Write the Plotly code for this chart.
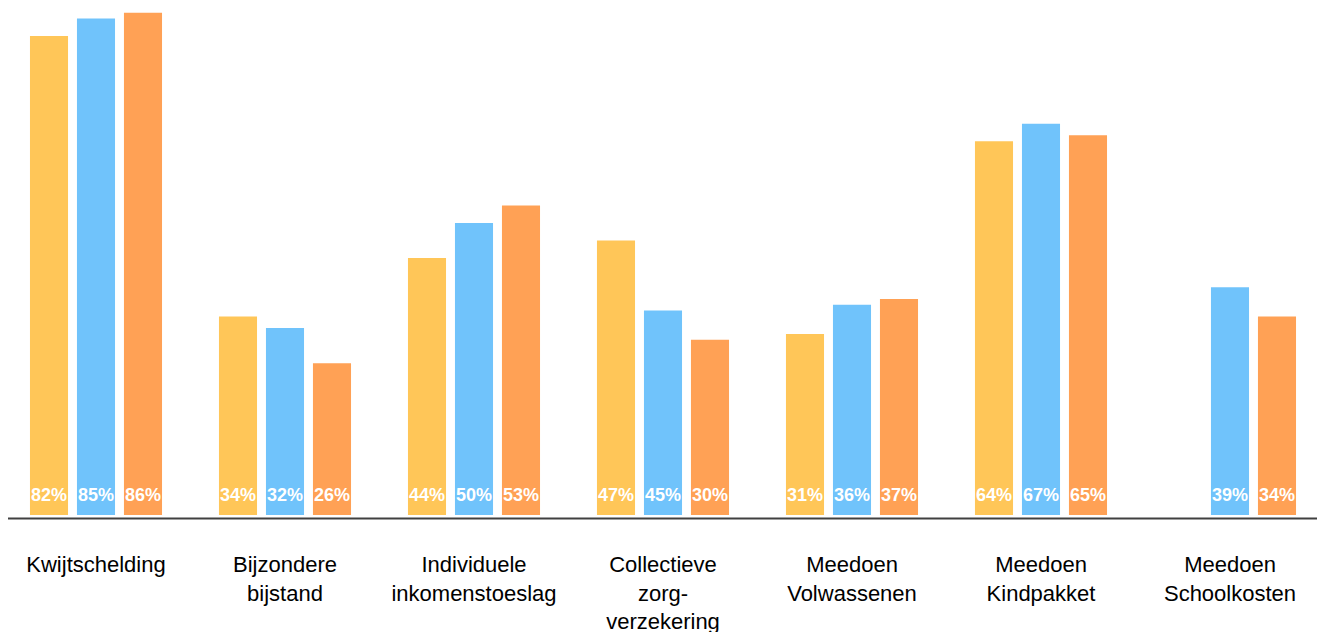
import plotly.graph_objects as go

categories = ["Kwijtschelding", "Bijzondere<br>bijstand", "Individuele<br>inkomenstoeslag",
              "Collectieve<br>zorg-<br>verzekering", "Meedoen<br>Volwassenen",
              "Meedoen<br>Kindpakket", "Meedoen<br>Schoolkosten"]
series_a = [82, 34, 44, 47, 31, 64, None]
series_b = [85, 32, 50, 35, 36, 67, 39]
series_c = [86, 26, 53, 30, 37, 65, 34]
labels_a = ["82%", "34%", "44%", "47%", "31%", "64%", None]
labels_b = ["85%", "32%", "50%", "45%", "36%", "67%", "39%"]
labels_c = ["86%", "26%", "53%", "30%", "37%", "65%", "34%"]

colors = ["#FFC658", "#70C3FB", "#FFA155"]

fig = go.Figure()
for vals, col in zip([series_a, series_b, series_c], colors):
    fig.add_trace(go.Bar(x=categories, y=vals, marker=dict(color=col, line=dict(width=0)),
                         hoverinfo="skip"))

slot = 47
for idx, labs in enumerate([labels_a, labels_b, labels_c]):
    for cat, lab in zip(categories, labs):
        if lab is None:
            continue
        fig.add_annotation(x=cat, y=0, text=lab, showarrow=False, yanchor="bottom",
                           xshift=(idx - 1) * slot, yshift=8,
                           font=dict(family="Liberation Sans, Arial, sans-serif", size=18,
                                     color="white", weight="bold"))

fig.add_shape(type="line", xref="paper", yref="paper", x0=0, x1=0.9917,
              y0=-3.5/507, y1=-3.5/507, line=dict(color="#404040", width=2))

fig.update_layout(
    barmode="group", bargap=0.254, bargroupgap=0.19,
    width=1325, height=632,
    margin=dict(l=0, r=0, t=0, b=125),
    plot_bgcolor="white", paper_bgcolor="white",
    showlegend=False,
    font=dict(family="Liberation Sans, Arial, sans-serif", color="black"),
    xaxis=dict(showgrid=False, showline=False, zeroline=False, ticks="",
               tickfont=dict(size=22, color="black"), ticklabelstandoff=34,
               range=[-0.4656, 6.545], fixedrange=True),
    yaxis=dict(visible=False, range=[0, 86.8], fixedrange=True),
)

fig.write_html("out.html")
